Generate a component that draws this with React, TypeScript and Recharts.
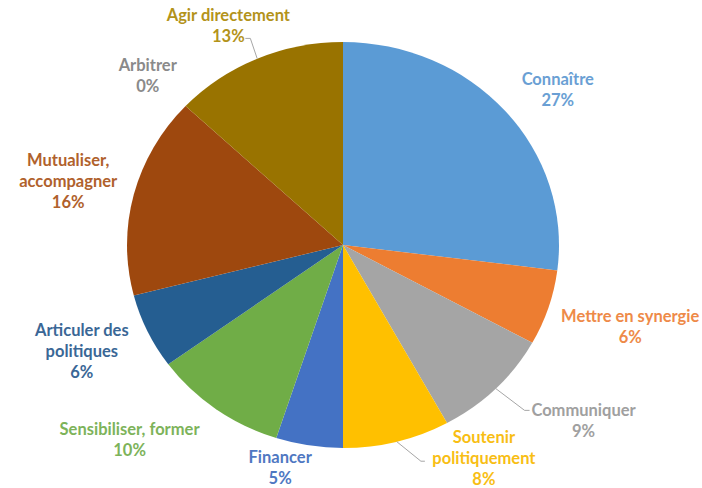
import React from 'react';
import { PieChart, Pie, Cell } from 'recharts';

const categories = [
  'Connaître',
  'Mettre en synergie',
  'Communiquer',
  'Soutenir\npolitiquement',
  'Financer',
  'Sensibiliser, former',
  'Articuler des\npolitiques',
  'Mutualiser,\naccompagner',
  'Arbitrer',
  'Agir directement',
];
const shares = [27, 6, 9, 8, 5, 10, 6, 16, 0, 13];
const colors = ['#5B9BD5', '#ED7D31', '#A5A5A5', '#FFC000', '#4472C4', '#70AD47', '#255E91', '#9E480E', '#636363', '#997300'];
const labelColors = ['#6A9FD4', '#EE8A48', '#A0A0A0', '#F8BE14', '#4F78C2', '#7DB35A', '#3A6796', '#B0612C', '#8A8A8A', '#B3931A'];

// label placement tweaks relative to the default spot outside each slice
const labelNudge: [number, number][] = [
  [19, 9], [39, 5], [56, 0], [76, -27], [-22, -22],
  [-60, -6], [-25, 0], [-22, -2], [-5, 0], [-11, 8],
];
// leader line elbow / end, relative to the label centre (null = no leader)
const leaders: ([number, number, number, number] | null)[] = [
  null, null, [-59, -10, -54, -10], [-63, 3, -59, 3], null,
  null, null, null, null, [22, 13, 17, 13],
];

const data = categories.map((name, i) => ({ name, value: shares[i] }));

const CX = 343;
const CY = 245;
const R = 203;
const SX = 1.064; // the source pie is a bit wider than tall
const GAP = 45;
const LH = 21;
const RAD = Math.PI / 180;

function renderLabel(props: any) {
  const { cx, cy, midAngle, outerRadius, index } = props;
  const cos = Math.cos(midAngle * RAD);
  const sin = Math.sin(midAngle * RAD);
  const lx = cx + (outerRadius * SX + GAP) * cos + labelNudge[index][0];
  const ly = cy - (outerRadius + GAP) * sin + labelNudge[index][1];
  const lines = categories[index].split('\n').concat(`${shares[index]}%`);
  const top = ly - ((lines.length - 1) * LH) / 2;
  const lead = leaders[index];
  return (
    <g key={`lbl-${index}`}>
      {lead && (
        <polyline
          points={`${cx + outerRadius * SX * cos},${cy - outerRadius * sin} ${lx + lead[0]},${ly + lead[1]} ${lx + lead[2]},${ly + lead[3]}`}
          fill="none"
          stroke="#A6A6A6"
          strokeWidth={1}
        />
      )}
      <text
        x={lx}
        y={top}
        textAnchor="middle"
        dominantBaseline="central"
        fill={labelColors[index]}
        fontFamily="Lato, 'Open Sans', sans-serif"
        fontWeight={700}
        fontSize={16.5}
      >
        {lines.map((t, k) => (
          <tspan key={k} x={lx} dy={k === 0 ? 0 : LH}>
            {t}
          </tspan>
        ))}
      </text>
    </g>
  );
}

export default function App() {
  return (
    <div style={{ position: 'absolute', left: 0, top: 0, width: 702, height: 488, background: '#fff', overflow: 'hidden' }}>
      <style>{`.recharts-pie-sector { transform-origin: ${CX}px ${CY}px; transform: scaleX(${SX}); }`}</style>
      <PieChart width={702} height={488} margin={{ top: 0, right: 0, bottom: 0, left: 0 }}>
        <Pie
          data={data}
          dataKey="value"
          nameKey="name"
          cx={CX}
          cy={CY}
          outerRadius={R}
          startAngle={90}
          endAngle={-270}
          stroke="none"
          label={renderLabel}
          labelLine={false}
          isAnimationActive={false}
        >
          {data.map((d, i) => (
            <Cell key={d.name} fill={colors[i]} />
          ))}
        </Pie>
      </PieChart>
    </div>
  );
}
